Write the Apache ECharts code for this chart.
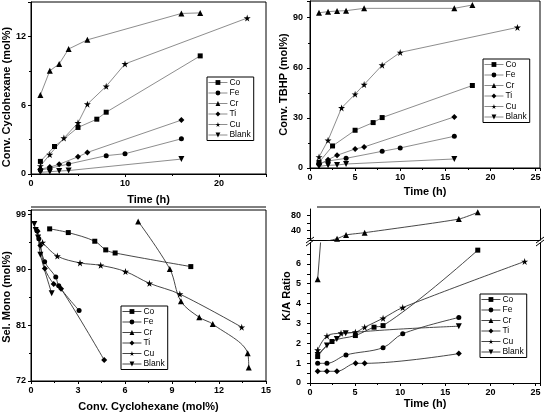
<!DOCTYPE html>
<html><head><meta charset="utf-8">
<script src="https://cdn.jsdelivr.net/npm/echarts@6/dist/echarts.min.js"></script>
<style>html,body{margin:0;padding:0;background:#fff}#c{width:548px;height:416px}</style>
</head><body><div id="c"></div><script>
// ---- Panel 1: Conv. Cyclohexane (mol%) vs Time (h) ----
const p1_Co    = [[1,1.1],[2.5,2.4],[5,4.06],[7,4.78],[8,5.39],[18,10.3]];
const p1_Fe    = [[1,0.35],[2,0.5],[4,0.87],[8,1.6],[10,1.77],[16,3.07]];
const p1_Cr    = [[1,6.9],[2,9.0],[3,9.6],[4,10.9],[6,11.7],[16,14.0],[18,14.05]];
const p1_Ti    = [[1,0.42],[2,0.6],[3,0.85],[5,1.5],[6,1.88],[16,4.7]];
const p1_Cu    = [[1,0.7],[2,1.7],[3.5,3.13],[5,4.46],[6,6.09],[8,7.65],[10,9.6],[23,13.6]];
const p1_Blank = [[1,0.15],[2,0.2],[3,0.26],[4,0.3],[16,1.3]];
// ---- Panel 2: Conv. TBHP (mol%) vs Time (h) ----
const p2_Co    = [[1,3.4],[2.5,13.2],[5,22.6],[7,27.2],[8,30.2],[18,49.4]];
const p2_Fe    = [[1,2.5],[2,4.2],[4,5.8],[8,10],[10,12],[16,19]];
const p2_Cr    = [[1,93],[2,93.6],[3,94],[4,94.2],[6,95.6],[16,95.6],[18,97.6]];
const p2_Ti    = [[1,2],[2,5],[3,7.6],[5,11.4],[6,12.6],[16,30.6]];
const p2_Cu    = [[1,6.6],[2,16.6],[3.5,36],[5,44.2],[6,50],[8,61.6],[10,69.2],[23,84.2]];
const p2_Blank = [[1,1],[2,1.6],[3,1.8],[4,2.4],[16,5.4]];
// ---- Panel 3: Sel. Mono (mol%) vs Conv. Cyclohexane (mol%) ----
const p3_Co    = [[1.19,96.6],[2.38,96.0],[4.07,94.6],[4.77,93.2],[5.37,92.7],[10.2,90.5]];
const p3_Fe    = [[0.38,96.3],[0.5,95.0],[0.87,91.3],[1.58,88.8],[1.77,87.4],[3.07,83.4]];
const p3_Cr    = [[6.84,97.8],[8.86,90.1],[9.57,84.9],[10.74,82.3],[11.6,81.2],[13.83,76.5],[13.9,74.2]];
const p3_Ti    = [[0.42,96.2],[0.6,93.9],[0.88,90.2],[1.45,87.7],[1.92,86.9],[4.67,75.4]];
const p3_Cu    = [[0.74,94.4],[1.68,92.2],[3.13,91.1],[4.45,90.7],[6.03,89.7],[7.56,87.8],[9.5,86.05],[13.45,80.7]];
const p3_Blank = [[0.21,97.4],[0.3,96.4],[0.45,95.2],[0.6,92.4],[1.32,86.2]];
// ---- Panel 4: K/A Ratio vs Time (h) (broken y axis) ----
const p4_Co    = [[0.85,1.33],[2.44,2.09],[5.03,2.39],[7.1,2.81],[8.1,2.89],[18.6,6.69]];
const p4_Fe    = [[0.85,0.99],[1.88,0.99],[3.99,1.41],[8.1,1.78],[10.28,2.48],[16.5,3.3]];
const p4_Cr    = [[0.85,5.23],[3.0,17.6],[4.0,27.5],[6.06,33.6],[16.5,70],[18.6,88]];
const p4_Ti    = [[0.85,0.59],[1.88,0.59],[2.99,0.59],[5.06,0.99],[6.06,0.99],[16.5,1.48]];
const p4_Cu    = [[0.85,1.66],[1.88,2.37],[3.44,2.51],[5.03,2.56],[6.06,2.81],[8.1,3.26],[10.28,3.8],[23.8,6.12]];
const p4_Blank = [[0.85,1.41],[1.88,1.89],[2.97,2.22],[3.96,2.51],[16.5,2.86]];
const p4_lowerTicks = [0,1,2,3,4,5,6];
const p4_upperTicks = [40,80];

const names = ['Co','Fe','Cr','Ti','Cu','Blank'];
const FONT = 'Liberation Sans';
const STAR = 'path://M50,0L61,35L98,35L68,57L79,91L50,70L21,91L32,57L2,35L39,35Z';
const sym = {
  Co:{symbol:'rect',symbolSize:5},
  Fe:{symbol:'circle',symbolSize:5},
  Cr:{symbol:'triangle',symbolSize:6},
  Ti:{symbol:'diamond',symbolSize:6},
  Cu:{symbol:STAR,symbolSize:7},
  Blank:{symbol:'triangle',symbolSize:6,symbolRotate:180}
};
function mk(name, data, xi, yi, color, smooth){
  const s = sym[name];
  return {type:'line', name, data, xAxisIndex:xi, yAxisIndex:yi,
    symbol:s.symbol, symbolSize:s.symbolSize, symbolRotate:s.symbolRotate||0,
    showAllSymbol:true, smooth: smooth, clip:true, animation:false,
    lineStyle:{color:color, width:0.9},
    itemStyle:{color:'#000', borderWidth:0},
    emphasis:{disabled:true}};
}
function hideOff(step){ return v => (Math.abs(v/step - Math.round(v/step)) < 1e-6 ? String(Math.round(v*1000)/1000) : ''); }
function xAx(gi, min, max, step, name, nameGap, extra){
  return Object.assign({type:'value', gridIndex:gi, min, max, interval:step,
    name, nameLocation:'middle', nameGap,
    nameTextStyle:{fontFamily:FONT,fontWeight:'bold',fontSize:11,color:'#000'},
    axisLine:{show:true,onZero:false,lineStyle:{color:'#000',width:1}},
    axisTick:{show:true,length:3,lineStyle:{color:'#000'}},
    minorTick:{show:true,splitNumber:2,length:2,lineStyle:{color:'#000'}},
    splitLine:{show:false},
    axisLabel:{fontFamily:FONT,fontWeight:'bold',fontSize:9,color:'#000',margin:5,formatter:hideOff(step)}}, extra||{});
}
function yAx(gi, min, max, step, name, nameGap, margin, namePad, extra){
  return Object.assign({type:'value', gridIndex:gi, min, max, interval:step,
    name, nameLocation:'middle', nameGap,
    nameTextStyle:{fontFamily:FONT,fontWeight:'bold',fontSize:11,color:'#000',padding:namePad||0},
    axisLine:{show:true,onZero:false,lineStyle:{color:'#000',width:1}},
    axisTick:{show:true,length:3,lineStyle:{color:'#000'}},
    minorTick:{show:true,splitNumber:2,length:2,lineStyle:{color:'#000'}},
    splitLine:{show:false},
    axisLabel:{fontFamily:FONT,fontWeight:'bold',fontSize:9,color:'#000',margin:margin,formatter:hideOff(step)}}, extra||{});
}
function lg(left, top, lineColor){
  return {show:true, left, top, orient:'vertical', selectedMode:false,
    itemWidth:19, itemHeight:6, itemGap:1.5, padding:[1,3,1,1],
    borderColor:'#000', borderWidth:1, backgroundColor:'#fff',
    lineStyle:{color:lineColor, width:0.9},
    textStyle:{fontFamily:FONT,fontSize:8.5,color:'#000',padding:[0,0,0,-3]},
    data:names};
}

const G1 = '#808080', G3 = '#333';
const series = [];
[['Co',p1_Co],['Fe',p1_Fe],['Cr',p1_Cr],['Ti',p1_Ti],['Cu',p1_Cu],['Blank',p1_Blank]].forEach(([n,d])=>series.push(mk(n,d,0,0,G1,false)));
[['Co',p2_Co],['Fe',p2_Fe],['Cr',p2_Cr],['Ti',p2_Ti],['Cu',p2_Cu],['Blank',p2_Blank]].forEach(([n,d])=>series.push(mk(n,d,1,1,G1,false)));
[['Co',p3_Co],['Fe',p3_Fe],['Cr',p3_Cr],['Ti',p3_Ti],['Cu',p3_Cu],['Blank',p3_Blank]].forEach(([n,d])=>series.push(mk(n,d,2,2,G3,0.35)));
[['Co',p4_Co],['Fe',p4_Fe],['Ti',p4_Ti],['Cu',p4_Cu],['Blank',p4_Blank]].forEach(([n,d])=>series.push(mk(n,d,4,4,G3,0.35)));
series.push(mk('Cr',p4_Cr,4,4,G3,false));
series.push(mk('Cr',p4_Cr,3,3,G3,0.2));

const frame = {show:true, borderColor:'#000', borderWidth:1, backgroundColor:'transparent'};
const option = {
  animation:false,
  backgroundColor:'#fff',
  grid:[
    Object.assign({left:31, top:2, width:235, height:172}, frame),
    Object.assign({left:310, top:1, width:230, height:167}, frame),
    Object.assign({left:31, top:210, width:235, height:171}, frame),
    {left:310, top:209, width:230, height:31, show:false},
    {left:310, top:243, width:230, height:140, show:false}
  ],
  xAxis:[
    xAx(0, 0, 25, 10, 'Time (h)', 20),
    xAx(1, 0, 25.5, 5, 'Time (h)', 18),
    xAx(2, 0, 15, 3, 'Conv. Cyclohexane (mol%)', 20),
    {type:'value', gridIndex:3, min:0, max:25.5, position:'top',
      axisLine:{show:true,lineStyle:{color:'#000',width:1}}, axisTick:{show:false}, axisLabel:{show:false}, splitLine:{show:false}},
    xAx(4, 0, 25.5, 5, 'Time (h)', 15)
  ],
  yAxis:[
    yAx(0, 0, 15, 6, 'Conv. Cyclohexane (mol%)', 16, 5, [0,18,0,0]),
    yAx(1, 0, 100, 30, 'Conv. TBHP (mol%)', 16, 7),
    yAx(2, 72, 99.65, 9, 'Sel. Mono (mol%)', 16, 5, [0,3,0,0]),
    {type:'value', gridIndex:3, min:14, max:97,
      axisLine:{show:true,onZero:false,lineStyle:{color:'#000',width:1}},
      axisTick:{show:true,length:3,customValues:[20,40,60,80],lineStyle:{color:'#000'}},
      axisLabel:{fontFamily:FONT,fontWeight:'bold',fontSize:9,color:'#000',margin:9,customValues:p4_upperTicks},
      splitLine:{show:false}},
    {type:'value', gridIndex:4, min:0, max:7.05,
      axisLine:{show:true,onZero:false,lineStyle:{color:'#000',width:1}},
      axisTick:{show:true,length:3,customValues:[0,0.5,1,1.5,2,2.5,3,3.5,4,4.5,5,5.5,6,6.5],lineStyle:{color:'#000'}},
      axisLabel:{fontFamily:FONT,fontWeight:'bold',fontSize:9,color:'#000',margin:9,customValues:p4_lowerTicks},
      splitLine:{show:false}},
    {type:'value', gridIndex:3, min:0, max:1, position:'right',
      axisLine:{show:true,onZero:false,lineStyle:{color:'#000',width:1}}, axisTick:{show:false}, axisLabel:{show:false}, splitLine:{show:false}},
    {type:'value', gridIndex:4, min:0, max:1, position:'right',
      axisLine:{show:true,onZero:false,lineStyle:{color:'#000',width:1}}, axisTick:{show:false}, axisLabel:{show:false}, splitLine:{show:false}}
  ],
  legend:[ lg(207,77,G1), lg(483,59,G1), lg(121,306,G3), lg(480,294,G3) ],
  series,
  graphic:[
    {type:'line', shape:{x1:31,y1:207,x2:266,y2:207}, style:{stroke:'#000',lineWidth:1}},
    {type:'line', shape:{x1:317,y1:207,x2:540,y2:207}, style:{stroke:'#000',lineWidth:1}},
    {type:'line', shape:{x1:306,y1:243,x2:314,y2:237}, style:{stroke:'#000',lineWidth:1}},
    {type:'line', shape:{x1:306,y1:246,x2:314,y2:240}, style:{stroke:'#000',lineWidth:1}},
    {type:'line', shape:{x1:536,y1:243,x2:544,y2:237}, style:{stroke:'#000',lineWidth:1}},
    {type:'line', shape:{x1:536,y1:246,x2:544,y2:240}, style:{stroke:'#000',lineWidth:1}},
    {type:'text', x:287, y:296, rotation:Math.PI/2,
      style:{text:'K/A Ratio', font:'bold 11px "Liberation Sans"', fill:'#000', align:'center', verticalAlign:'middle'}}
  ]
};
const chart = echarts.init(document.getElementById('c'), null, {renderer:'canvas'});
chart.setOption(option);
</script></body></html>
